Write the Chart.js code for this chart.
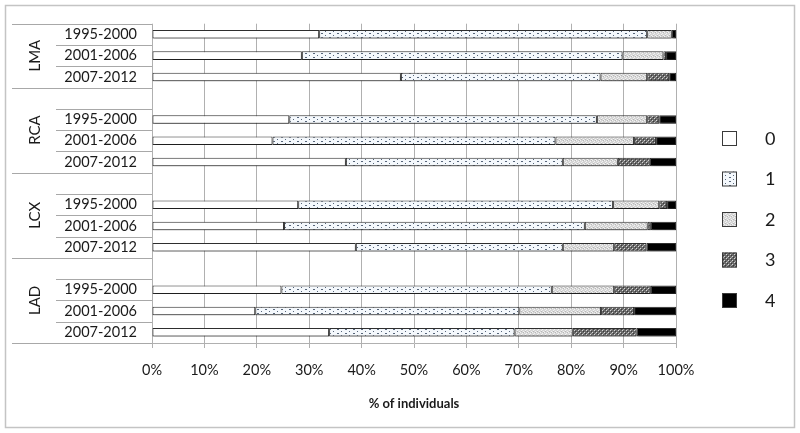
<!DOCTYPE html>
<html>
<head>
<meta charset="utf-8">
<script src="https://cdn.jsdelivr.net/npm/chart.js@4.4.0/dist/chart.umd.min.js"></script>
<style>
  html, body { margin: 0; padding: 0; background: #fff; }
</style>
</head>
<body>
<canvas id="barChart" width="800" height="433"></canvas>
<script>
// rows of the chart (empty label = spacer row between arteries)
var rowLabels = ["1995-2000", "2001-2006", "2007-2012", "",
                 "1995-2000", "2001-2006", "2007-2012", "",
                 "1995-2000", "2001-2006", "2007-2012", "",
                 "1995-2000", "2001-2006", "2007-2012"];
var groupLabels = ["LMA", "RCA", "LCX", "LAD"];
var groupSizes = [3, 4, 4, 4]; // rows per group (incl. spacer)
var seriesNames = ["0", "1", "2", "3", "4"];

// % of individuals per score
var score0 = [31.9, 28.6, 47.5, null, 26.2, 23.0, 37.0, null, 27.9, 25.2, 38.9, null, 24.7, 19.7, 33.8];
var score1 = [62.6, 61.2, 38.1, null, 58.7, 54.0, 41.4, null, 60.1, 57.4, 39.5, null, 51.6, 50.4, 35.4];
var score2 = [4.7, 7.8, 8.9, null, 9.6, 15.0, 10.5, null, 8.8, 12.0, 9.8, null, 11.9, 15.6, 11.1];
var score3 = [0, 0.5, 4.2, null, 2.3, 4.2, 6.1, null, 1.5, 0.6, 6.2, null, 7.0, 6.3, 12.2];
var score4 = [0.8, 1.9, 1.3, null, 3.2, 3.8, 5.0, null, 1.7, 4.8, 5.6, null, 4.8, 8.0, 7.5];

var xTicks = [0, 10, 20, 30, 40, 50, 60, 70, 80, 90, 100];

var FONT = "Lato, 'Open Sans', sans-serif";

// small texture tiles for the fills
function makePattern(w, h, bg, dots) {
  var c = document.createElement("canvas");
  c.width = w; c.height = h;
  var g = c.getContext("2d");
  g.fillStyle = bg;
  g.fillRect(0, 0, w, h);
  dots.forEach(function (d) {
    g.fillStyle = d[4];
    g.fillRect(d[0], d[1], d[2], d[3]);
  });
  return g.createPattern(c, "repeat");
}

var fills = [
  "#ffffff",
  makePattern(8, 4, "#f4f8fc", [[1, 1, 2, 1, "#56657a"], [5, 3, 1, 1, "#56657a"]]),
  makePattern(4, 4, "#d6d6d6", [[0, 0, 1, 1, "#f2f2f2"], [2, 1, 1, 1, "#f2f2f2"], [1, 2, 1, 1, "#f2f2f2"], [3, 3, 1, 1, "#f2f2f2"], [3, 0, 1, 1, "#b8b8b8"], [1, 3, 1, 1, "#b8b8b8"]]),
  makePattern(4, 4, "#6a6a6a", [[0, 0, 1, 1, "#d8d8d8"], [2, 2, 1, 1, "#d8d8d8"], [1, 1, 1, 1, "#3a3a3a"], [3, 3, 1, 1, "#3a3a3a"], [3, 1, 1, 1, "#a0a0a0"]]),
  "#000000"
];

var allScores = [score0, score1, score2, score3, score4];
var datasets = allScores.map(function (vals, i) {
  return {
    label: seriesNames[i],
    data: vals,
    backgroundColor: fills[i],
    borderColor: "#2e2e2e",
    borderWidth: 1,
    borderSkipped: false,
    categoryPercentage: 1.0,
    barPercentage: 0.4
  };
});

// extra drawing: frame, category separators, group labels, legend, shadows
var decor = {
  id: "decor",
  beforeDatasetsDraw: function (chart) {
    var ctx = chart.ctx;
    ctx.save();
    ctx.shadowColor = "rgba(0,0,0,0.35)";
    ctx.shadowOffsetX = 1;
    ctx.shadowOffsetY = 2;
    ctx.shadowBlur = 2;
  },
  afterDatasetsDraw: function (chart) {
    chart.ctx.restore();
  },
  afterDraw: function (chart) {
    var ctx = chart.ctx;
    var area = chart.chartArea;
    var ys = chart.scales.y;
    var step = (area.bottom - area.top) / rowLabels.length;

    ctx.save();
    // outer frame
    ctx.strokeStyle = "#c4c4c4";
    ctx.lineWidth = 1.5;
    ctx.strokeRect(5.5, 5.5, 789, 422);

    // row separators
    ctx.strokeStyle = "#a8a8a8";
    ctx.lineWidth = 1;
    var groupEdges = [0];
    groupSizes.reduce(function (acc, n) { groupEdges.push(acc + n); return acc + n; }, 0);
    for (var i = 0; i <= rowLabels.length; i++) {
      var y = Math.round(ys.getPixelForValue(0) - step / 2 + i * step) + 0.5;
      var x0 = groupEdges.indexOf(i) >= 0 ? 12 : 56;
      ctx.beginPath();
      ctx.moveTo(x0, y);
      ctx.lineTo(area.left, y);
      ctx.stroke();
    }

    // group labels (rotated)
    ctx.fillStyle = "#1a1a1a";
    ctx.font = "15px " + FONT;
    ctx.textAlign = "center";
    ctx.textBaseline = "middle";
    for (var g = 0; g < groupLabels.length; g++) {
      var yTop = ys.getPixelForValue(0) - step / 2 + groupEdges[g] * step;
      var yBot = ys.getPixelForValue(0) - step / 2 + groupEdges[g + 1] * step;
      ctx.save();
      ctx.translate(35, (yTop + yBot) / 2);
      ctx.rotate(-Math.PI / 2);
      ctx.fillText(groupLabels[g], 0, 0);
      ctx.restore();
    }

    // legend
    ctx.font = "18px " + FONT;
    ctx.textAlign = "left";
    for (var k = 0; k < seriesNames.length; k++) {
      var cy = 138 + k * 40.5;
      ctx.fillStyle = fills[k];
      ctx.fillRect(722, cy - 7, 15, 15);
      ctx.strokeStyle = "#3a3a3a";
      ctx.strokeRect(722.5, cy - 6.5, 14, 14);
      ctx.fillStyle = "#1a1a1a";
      ctx.fillText(seriesNames[k], 765, cy + 1);
    }
    ctx.restore();
  }
};

var ctxBar = document.getElementById("barChart").getContext("2d");
var barChart = new Chart(ctxBar, {
  type: "bar",
  data: {
    labels: rowLabels,
    datasets: datasets
  },
  plugins: [decor],
  options: {
    indexAxis: "y",
    responsive: false,
    animation: false,
    devicePixelRatio: 1,
    layout: {
      padding: { top: 23, right: 124, bottom: 0, left: 0 }
    },
    scales: {
      x: {
        stacked: true,
        min: 0,
        max: 100,
        afterBuildTicks: function (scale) {
          scale.ticks = xTicks.map(function (v) { return { value: v }; });
        },
        afterFit: function (scale) {
          scale.height = 90;
        },
        grid: {
          color: "#b0b0b0",
          tickColor: "#b0b0b0",
          tickLength: 5
        },
        border: { color: "#b0b0b0" },
        ticks: {
          color: "#1a1a1a",
          font: { family: FONT, size: 14.5 },
          padding: 14,
          maxRotation: 0,
          callback: function (v) { return v + "%"; }
        },
        title: {
          display: true,
          text: "% of individuals",
          color: "#1a1a1a",
          font: { family: FONT, size: 13, weight: "bold" },
          padding: { top: 0, bottom: 21 }
        }
      },
      y: {
        stacked: true,
        afterFit: function (scale) {
          scale.width = 152;
        },
        grid: { display: false, drawTicks: false },
        border: { display: false },
        ticks: {
          color: "#1a1a1a",
          font: { family: FONT, size: 14.5 },
          padding: 15,
          autoSkip: false
        }
      }
    },
    plugins: {
      legend: { display: false },
      tooltip: { enabled: false }
    }
  }
});
</script>
</body>
</html>
